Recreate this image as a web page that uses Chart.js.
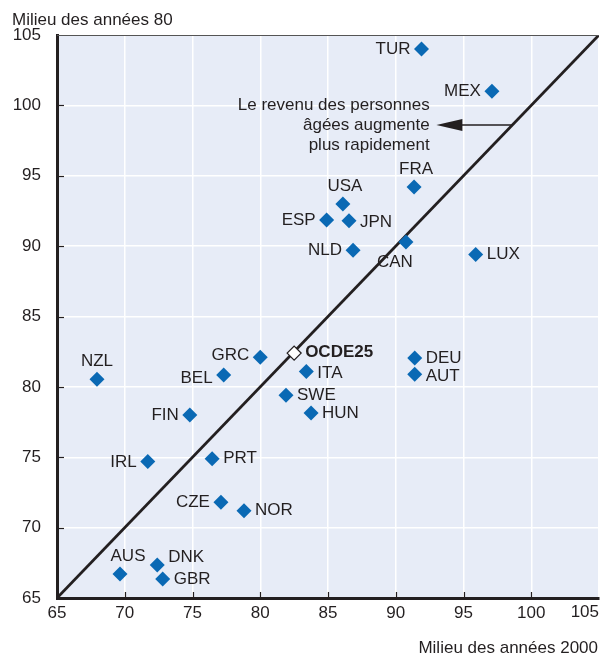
<!DOCTYPE html>
<html>
<head>
<meta charset="utf-8">
<script src="https://cdn.jsdelivr.net/npm/chart.js@4/dist/chart.umd.min.js"></script>
<style>
  html, body { margin: 0; padding: 0; background: #fff; }
  #wrap { width: 600px; height: 659px; }
</style>
</head>
<body>
<div id="wrap"><canvas id="myChart" width="600" height="659"></canvas></div>
<script>
// data
const countries = ['TUR','MEX','FRA','USA','ESP','JPN','NLD','CAN','LUX','GRC','DEU','AUT','NZL','BEL','ITA','SWE','HUN','FIN','IRL','PRT','CZE','NOR','AUS','DNK','GBR'];
const mid2000 = [91.9, 97.1, 91.35, 86.1, 84.9, 86.55, 86.85, 90.75, 95.9, 80.0, 91.4, 91.4, 67.95, 77.3, 83.4, 81.9, 83.75, 74.8, 71.7, 76.45, 77.1, 78.8, 69.65, 72.4, 72.8];
const mid80   = [104.0, 101.0, 94.2, 93.0, 91.85, 91.8, 89.7, 90.3, 89.4, 82.1, 82.05, 80.9, 80.55, 80.85, 81.1, 79.4, 78.15, 78.0, 74.7, 74.9, 71.8, 71.2, 66.7, 67.35, 66.35];
const oecdLabel = 'OCDE25';
const oecdPoint = [82.5, 82.4];
const tickValues = [65, 70, 75, 80, 85, 90, 95, 100, 105];

// where each label sits relative to its marker: side, dx, dy
const labelPos = {
  TUR:['left',0,0], MEX:['left',0,0], FRA:['above',2,0], USA:['above',2,0], ESP:['left',0,0],
  JPN:['right',0,2], NLD:['left',0,0], CAN:['below',-11,0], LUX:['right',0,0], GRC:['left',0,-2],
  DEU:['right',0,0], AUT:['right',0,2], NZL:['above',0,0], BEL:['left',0,3], ITA:['right',0,2],
  SWE:['right',0,0], HUN:['right',0,0], FIN:['left',0,0], IRL:['left',0,1], PRT:['right',0,0],
  CZE:['left',0,0], NOR:['right',0,0], AUS:['above',8,0], DNK:['right',0,-8], GBR:['right',0,0]
};

const blue = '#0a69b4';
const ink = '#231f20';
const font = '"Liberation Sans Narrow", "Arial Narrow", "Liberation Sans", sans-serif';

var points = countries.map((c, i) => ({x: mid2000[i], y: mid80[i]}));

var overlay = {
  id: 'overlay',
  afterDraw(chart) {
    const c = chart.ctx, xs = chart.scales.x, ys = chart.scales.y, a = chart.chartArea;
    c.save();
    // top frame
    c.strokeStyle = '#555';
    c.lineWidth = 1;
    c.beginPath();
    c.moveTo(a.left, a.top + 0.5); c.lineTo(a.right, a.top + 0.5);
    c.stroke();
    // inner tick marks
    c.strokeStyle = ink;
    c.lineWidth = 1.2;
    tickValues.slice(1, -1).forEach(v => {
      const px = Math.round(xs.getPixelForValue(v)) + 0.5;
      c.beginPath(); c.moveTo(px, a.bottom); c.lineTo(px, a.bottom - 6); c.stroke();
      const py = Math.round(ys.getPixelForValue(v)) + 0.5;
      c.beginPath(); c.moveTo(a.left, py); c.lineTo(a.left + 7, py); c.stroke();
    });

    // last x tick label, kept inside the canvas
    c.fillStyle = ink;
    c.font = '17px ' + font;
    c.textAlign = 'right';
    c.textBaseline = 'top';
    c.fillText(String(tickValues[tickValues.length - 1]), 599, a.bottom + 6);

    // point labels
    c.textBaseline = 'middle';
    countries.forEach((name, i) => {
      const p = labelPos[name];
      let x = xs.getPixelForValue(mid2000[i]) + p[1];
      let y = ys.getPixelForValue(mid80[i]) + p[2];
      if (p[0] == 'left') { c.textAlign = 'right'; x -= 11; }
      else if (p[0] == 'right') { c.textAlign = 'left'; x += 11; }
      else if (p[0] == 'above') { c.textAlign = 'center'; y -= 18; }
      else { c.textAlign = 'center'; y += 20; }
      c.fillText(name, x, y);
    });
    c.font = 'bold 17px ' + font;
    c.textAlign = 'left';
    c.fillText(oecdLabel, xs.getPixelForValue(oecdPoint[0]) + 11, ys.getPixelForValue(oecdPoint[1]) - 1);

    // annotation
    c.font = '17px ' + font;
    c.textAlign = 'right';
    const tx = xs.getPixelForValue(92.5), ty = ys.getPixelForValue(98.6);
    c.fillText('Le revenu des personnes', tx, ty - 20);
    c.fillText('âgées augmente', tx, ty);
    c.fillText('plus rapidement', tx, ty + 20);
    const ax0 = xs.getPixelForValue(98.6), ax1 = xs.getPixelForValue(93.0);
    c.strokeStyle = ink;
    c.lineWidth = 1.5;
    c.beginPath(); c.moveTo(ax0, ty); c.lineTo(ax1 + 20, ty); c.stroke();
    c.beginPath();
    c.moveTo(ax1, ty); c.lineTo(ax1 + 26, ty - 6); c.lineTo(ax1 + 26, ty + 6); c.closePath();
    c.fillStyle = ink; c.fill();

    // axis titles
    c.font = '17px ' + font;
    c.textBaseline = 'alphabetic';
    c.textAlign = 'left';
    c.fillText('Milieu des années 80', 12, 25);
    c.textAlign = 'right';
    c.fillText('Milieu des années 2000', 598, 653);
    c.restore();
  }
};

var areaBg = {
  id: 'areaBg',
  beforeDraw(chart) {
    const a = chart.chartArea, c = chart.ctx;
    c.save();
    c.fillStyle = '#e7ecf7';
    c.fillRect(a.left, a.top, a.right - a.left, a.bottom - a.top);
    c.restore();
  }
};

var myChart = new Chart(document.getElementById('myChart'), {
  type: 'scatter',
  data: {
    datasets: [
      {
        label: 'pays',
        data: points,
        pointStyle: 'rectRot',
        pointRadius: 7.5,
        pointHoverRadius: 7.5,
        backgroundColor: blue,
        borderColor: blue,
        borderWidth: 0,
        order: 1
      },
      {
        label: oecdLabel,
        data: [{x: oecdPoint[0], y: oecdPoint[1]}],
        pointStyle: 'rectRot',
        pointRadius: 7,
        backgroundColor: '#fff',
        borderColor: ink,
        borderWidth: 1.3,
        order: 0
      },
      {
        type: 'line',
        label: 'diagonale',
        data: [{x: 65, y: 65}, {x: 105, y: 105}],
        borderColor: ink,
        borderWidth: 2.8,
        pointRadius: 0,
        fill: false,
        order: 2
      }
    ]
  },
  options: {
    responsive: false,
    animation: false,
    events: [],
    layout: { autoPadding: false, padding: { top: 35, right: 1, left: 0, bottom: 0 } },
    plugins: { legend: { display: false }, tooltip: { enabled: false } },
    scales: {
      x: {
        type: 'linear', min: 65, max: 105,
        afterFit(s) { s.height = 61; s.paddingLeft = 0; s.paddingRight = 0; },
        ticks: {
          stepSize: 5, color: ink, padding: 5, font: { family: font, size: 17 }, maxRotation: 0,
          callback: v => (v === 105 ? '' : v)
        },
        grid: { color: '#ffffff', lineWidth: 1.5, drawTicks: false },
        border: { display: true, color: ink, width: 3 }
      },
      y: {
        type: 'linear', min: 65, max: 105,
        afterFit(s) { s.width = 57; s.paddingTop = 0; s.paddingBottom = 0; },
        ticks: { stepSize: 5, color: ink, padding: 16, font: { family: font, size: 17 } },
        grid: { color: '#ffffff', lineWidth: 1.5, drawTicks: false },
        border: { display: true, color: ink, width: 3 }
      }
    }
  },
  plugins: [areaBg, overlay]
});
</script>
</body>
</html>
